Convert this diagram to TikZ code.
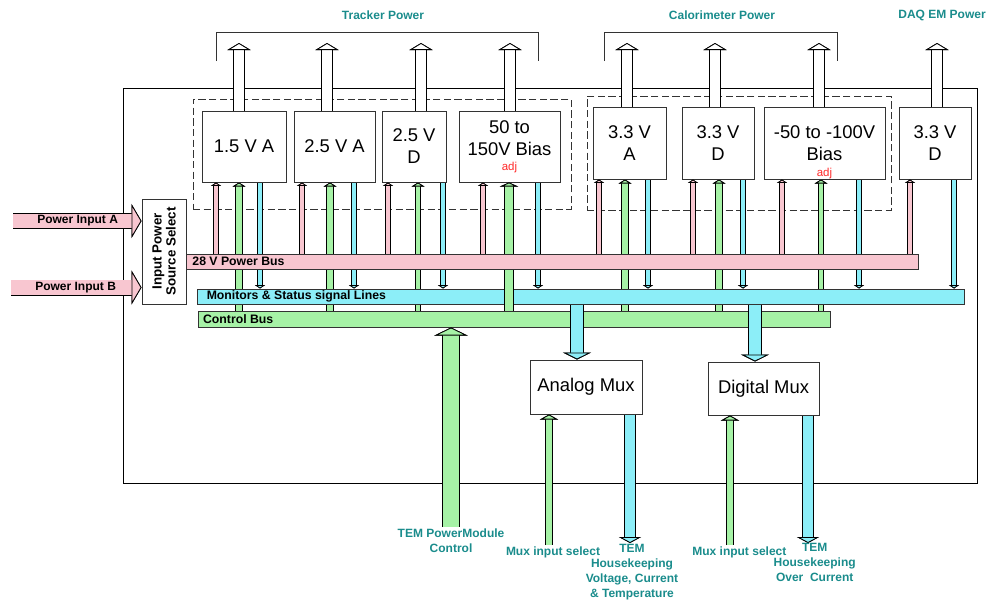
\documentclass[tikz,border=0pt]{standalone}
\usepackage{fontspec}
\setmainfont{Liberation Sans}
\usepackage{tikz}
\usetikzlibrary{arrows.meta,positioning,fit,backgrounds}
\definecolor{ink}{HTML}{333333}
\definecolor{labteal}{HTML}{1A8C8C}
\definecolor{buspink}{HTML}{F8C6D0}
\definecolor{buscyan}{HTML}{8CEEF8}
\definecolor{busgreen}{HTML}{A6F2A6}
\definecolor{adjred}{HTML}{FF2A2A}
\pgfdeclarelayer{back}
\pgfsetlayers{back,main}
\tikzset{
  unit/.style={draw=ink,fill=white,line width=.75pt,inner sep=0pt,align=center,
    font=\fontsize{13.8}{16.5}\selectfont},
  bus/.style={draw=ink,line width=.75pt,inner sep=0pt},
  buslabel/.style={font=\bfseries\fontsize{9.2}{11}\selectfont,inner sep=0pt,anchor=west},
  grouplabel/.style={font=\bfseries\fontsize{9}{11}\selectfont,text=labteal},
  tag/.style={font=\bfseries\fontsize{9}{11.25}\selectfont,text=labteal,align=center,inner sep=1pt},
  group/.style={draw=ink,line width=.75pt,dash pattern=on 5.5pt off 2.5pt,inner sep=0pt},
  feed/.style n args={4}{draw=#1,line width=#2,
    -{Triangle[length=#4 0 0,width=#3 0 0,line width=.6pt 0 0,color=black,fill=#1]},
    preaction={draw=black,line width=#2+1.4pt}},
}

\begin{document}
\begin{tikzpicture}[x=.75pt,y=-.75pt]
  \useasboundingbox (0,0) rectangle (987,603);
  \begin{pgfonlayer}{back}
    \node[draw=black,line width=.75pt,inner sep=0pt,fit={(123,88) (977,483)}] (pm) {};
    \node[group,fit={(193,99) (571,209)}] (tgrp) {};
    \node[group,fit={(587,96) (891,210)}] (cgrp) {};
    \draw[ink,line width=.75pt] (216,61) |- (538,32) -- (538,61);
    \draw[ink,line width=.75pt] (604,61) |- (837,32) -- (837,61);
  \end{pgfonlayer}
  \node[grouplabel] at (383,15) {Tracker Power};
  \node[grouplabel] at (722,15) {Calorimeter Power};
  \node[grouplabel] at (942,15) {DAQ EM Power};

  % supplies
  \node[unit,minimum width=63pt,minimum height=53.25pt] (v15a) at (244,146.5) {1.5 V A};
  \node[unit,minimum width=60.75pt,minimum height=53.25pt] (v25a) at (334.5,146.5) {2.5 V A};
  \node[unit,minimum width=48pt,minimum height=53.25pt] (v25d) at (414,146.5) {2.5 V\\D};
  \node[unit,minimum width=75.75pt,minimum height=53.25pt] (tbias) at (509.5,146.5)
    {50 to\\150V Bias\\[-5pt]{\color{adjred}\fontsize{8.6}{10}\selectfont adj}};
  \node[unit,minimum width=54.75pt,minimum height=54pt] (c33a) at (629.5,143) {3.3 V\\A};
  \node[unit,minimum width=54pt,minimum height=54pt] (c33d) at (718,143) {3.3 V\\D};
  \node[unit,minimum width=90.75pt,minimum height=54pt] (cbias) at (824.5,143)
    {\mbox{}\\[7pt]-50 to -100V\\Bias\\[-5pt]{\color{adjred}\fontsize{8.6}{10}\selectfont adj}};
  \node[unit,minimum width=54pt,minimum height=54pt] (daq) at (935,143) {3.3 V\\D};

  \coordinate (tipline) at (0,43);
  \foreach \b/\x in {v15a/239,v25a/327,v25d/421,tbias/510,c33a/627,c33d/715,cbias/819,daq/937}
    \draw[feed={white}{6.9pt}{17.25pt}{5.25pt}] (\b.north -| \x,0) -- (\x,0 |- tipline);

  % buses
  \node[bus,fill=busgreen,fit={(198,311) (830,327)}] (ctl) {};
  \node[bus,fill=buscyan,fit={(197,289) (964,304)}] (mon) {};
  \draw[feed={busgreen}{5.4pt}{13.5pt}{3pt}] (ctl.north -| 509,0) -- (tbias.south -| 509,0);
  \node[bus,fill=buspink,fit={(186,254) (918,269)}] (pwr) {};
  \node[buslabel,right=5pt of pwr.west] {28 V Power Bus};
  \node[buslabel,right=7.5pt of mon.west] {Monitors \& Status signal Lines};
  \node[buslabel,right=4pt of ctl.west] {Control Bus};

  \begin{pgfonlayer}{back}
    \foreach \b/\gx/\gw/\cx in {v15a/239/4.7pt/260,v25a/330/4.7pt/354,v25d/418/3.2pt/443,
        c33a/625/4.7pt/648,c33d/719/4.7pt/743,cbias/821/3.2pt/859}{
      \draw[feed={busgreen}{\gw}{9.5pt}{3pt}] (ctl.north -| \gx,0) -- (\b.south -| \gx,0);
      \draw[feed={buscyan}{3.2pt}{7.5pt}{2.6pt}] (\b.south -| \cx,0) -- (mon.north -| \cx,0);
    }
    \draw[feed={buscyan}{3.2pt}{7.5pt}{2.6pt}] (tbias.south -| 538,0) -- (mon.north -| 538,0);
    \draw[feed={buscyan}{3.2pt}{7.5pt}{2.6pt}] (daq.south -| 954,0) -- (mon.north -| 954,0);
  \end{pgfonlayer}
  \foreach \b/\px in {v15a/216,v25a/302,v25d/388,tbias/483,c33a/599,c33d/693,cbias/782,daq/910}
    \draw[feed={buspink}{3.2pt}{7.5pt}{2.6pt}] (pwr.north -| \px,0) -- (\b.south -| \px,0);

  % multiplexers
  \node[unit,minimum width=84pt,minimum height=40.5pt] (amux) at (586,387) {Analog Mux};
  \node[unit,minimum width=83.25pt,minimum height=39.75pt] (dmux) at (763.5,388.5) {Digital Mux};
  \draw[feed={buscyan}{8.4pt}{21pt}{5.25pt}] (mon.south -| 577,0) -- (amux.north -| 577,0);
  \draw[feed={buscyan}{8.4pt}{21pt}{5.25pt}] (mon.south -| 755,0) -- (dmux.north -| 755,0);

  % input selection
  \node[unit,rotate=90,minimum width=78.75pt,minimum height=33pt,
    font=\bfseries\fontsize{10}{10.5}\selectfont] (sel) at (164,251.5) {Input Power\\Source Select};
  \coordinate (pina) at (13,221);
  \coordinate (pinb) at (11,287.5);
  \draw[feed={buspink}{10.6pt}{25.5pt}{7.5pt}] (pina) -- (pina -| sel.north);
  \draw[feed={buspink}{10.6pt}{25.5pt}{7.5pt}] (pinb) -- (pinb -| sel.north);
  \node[buslabel,font=\bfseries\fontsize{9}{10}\selectfont,right=18pt of pina] {Power Input A};
  \node[buslabel,font=\bfseries\fontsize{9}{10}\selectfont,right=18pt of pinb] {Power Input B};

  % external signals
  \coordinate (tcin) at (451,527);
  \coordinate (asel) at (549,545);
  \coordinate (ahk) at (630,543);
  \coordinate (dsel) at (730,545);
  \coordinate (dhk) at (808,543);
  \draw[feed={busgreen}{11.4pt}{24.75pt}{6pt}] (tcin) -- (ctl.south -| tcin);
  \draw[feed={busgreen}{4.7pt}{13.5pt}{3.75pt}] (asel) -- (amux.south -| asel);
  \draw[feed={buscyan}{6.9pt}{16.5pt}{4.5pt}] (amux.south -| ahk) -- (ahk);
  \draw[feed={busgreen}{4.7pt}{13.5pt}{3.75pt}] (dsel) -- (dmux.south -| dsel);
  \draw[feed={buscyan}{6.9pt}{16.5pt}{4.5pt}] (dmux.south -| dhk) -- (dhk);
  \node[tag,below=0pt of tcin] {TEM PowerModule\\Control};
  \node[tag,below=0pt of asel,xshift=3pt] {Mux input select};
  \node[tag,below=0pt of ahk,xshift=1.5pt] {TEM\\Housekeeping\\Voltage, Current\\\& Temperature};
  \node[tag,below=0pt of dsel,xshift=7pt] {Mux input select};
  \node[tag,below=-1pt of dhk,xshift=5pt] {TEM\\Housekeeping\\Over~~Current};
\end{tikzpicture}
\end{document}
